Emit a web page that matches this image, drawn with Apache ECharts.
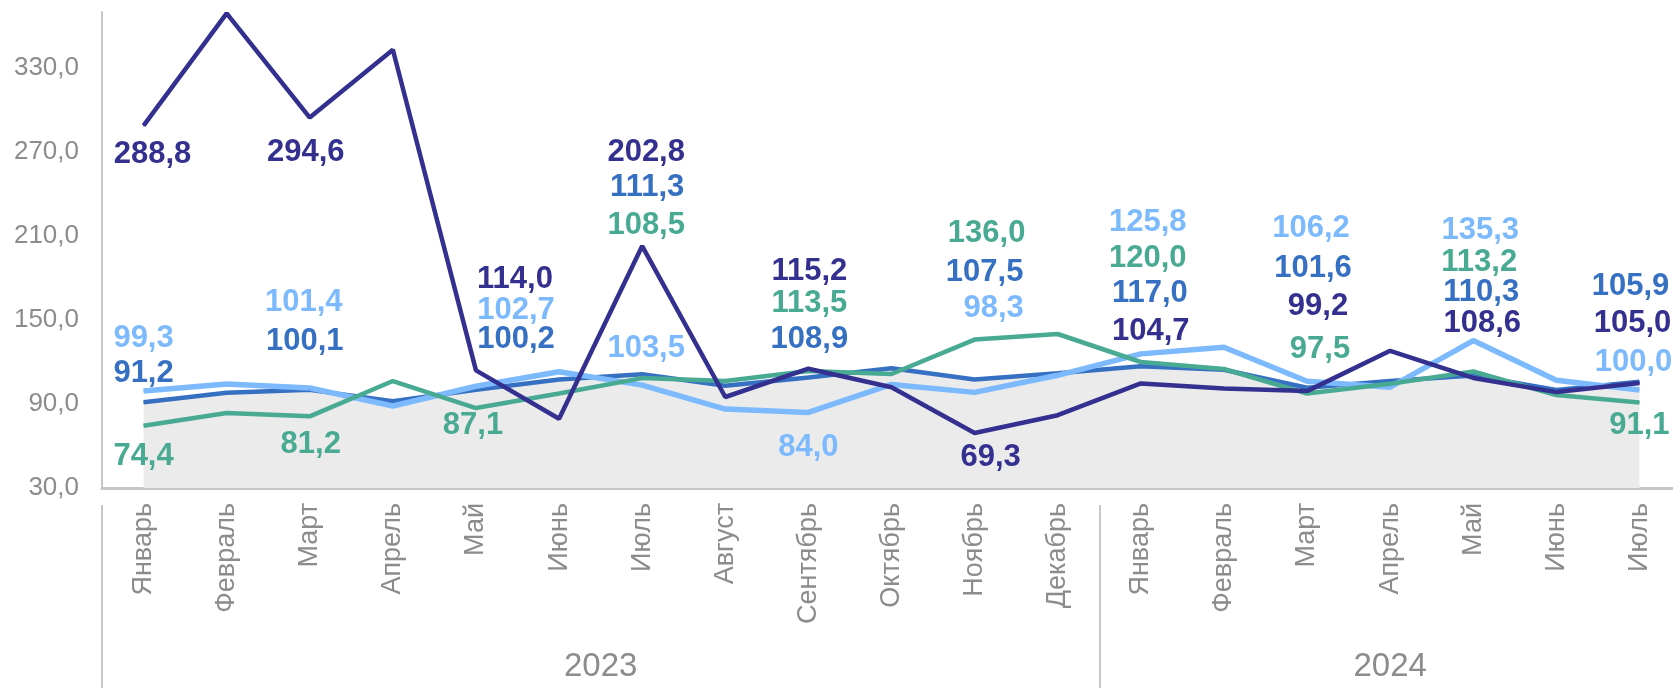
<!DOCTYPE html>
<html>
<head>
<meta charset="utf-8">
<script src="https://cdn.jsdelivr.net/npm/echarts@6/dist/echarts.min.js"></script>
<style>
  html, body { margin: 0; padding: 0; background: #fff; }
  #chart { width: 1673px; height: 688px; }
</style>
</head>
<body>
<div id="chart"></div>
<script>
const months = ['Январь', 'Февраль', 'Март', 'Апрель', 'Май', 'Июнь', 'Июль', 'Август', 'Сентябрь', 'Октябрь', 'Ноябрь', 'Декабрь',
  'Январь', 'Февраль', 'Март', 'Апрель', 'Май', 'Июнь', 'Июль']
const years = ['2023', '2024']
const yearCenters = [5.5, 15]      // middle of each year group (category index)
const yearBounds = [-0.5, 11.5]    // group separators

const navy = [288.8, 369, 294.6, 343, 114.0, 79.5, 202.8, 95, 115.2, 102, 69.3, 82, 104.7, 101, 99.2, 128, 108.6, 98.5, 105.0]
const blue = [91.2, 98, 100.1, 92, 100.2, 107.5, 111.3, 103, 108.9, 115.5, 107.5, 112, 117.0, 114.5, 101.6, 106.5, 110.3, 100, 105.9]
const light = [99.3, 104.3, 101.4, 88.6, 102.7, 113, 103.5, 86.4, 84.0, 104, 98.3, 110.5, 125.8, 130.5, 106.2, 102, 135.3, 107, 100.0]
const green = [74.4, 83.6, 81.2, 106.4, 87.1, 97.5, 108.5, 106.4, 113.5, 111.4, 136.0, 140, 120.0, 115, 97.5, 104.5, 113.2, 96.4, 91.1]

// label placement (pixel shift from the point), only for labelled months
const labelShift = {
  navy: { 0: [9, 29], 2: [-4, 35], 4: [39, -91], 6: [4, -94], 8: [1, -97], 10: [16, 24], 12: [10, -52], 14: [11, -85], 16: [9, -55], 18: [-7, -60] },
  blue: { 0: [0, -29], 2: [-5, -48], 4: [40, -50], 6: [5, -187], 8: [1, -38], 10: [10, -107], 12: [9, -73], 14: [6, -119], 16: [8, -83], 18: [-9, -95] },
  light: { 0: [0, -53], 2: [-6, -86], 4: [40, -76], 6: [4, -37], 8: [0, 35], 10: [19, -84], 12: [7, -131], 14: [4, -153], 16: [7, -110], 18: [-6, -28] },
  green: { 0: [0, 31], 2: [1, 28], 4: [-3, 17], 6: [4, -153], 8: [1, -68], 10: [12, -106], 12: [7, -104], 14: [13, -44], 16: [6, -109], 18: [0, 23] }
}

const colors = { navy: '#33308f', blue: '#3670c2', light: '#7cbafd', green: '#49aa93' }
const fmt = v => v.toFixed(1).replace('.', ',')
const FONT = '"Liberation Sans", Arial, sans-serif'

const buildData = (values, key) => values.map((v, i) => {
  const shift = labelShift[key][i]
  if (!shift) return { value: v }
  return { value: v, label: { show: true, offset: shift } }
})

const lineSeries = (key, values, width) => ({
  name: key,
  type: 'line',
  data: buildData(values, key),
  symbol: 'circle',
  symbolSize: 1,
  itemStyle: { color: colors[key] },
  lineStyle: { color: colors[key], width: width },
  label: {
    show: false,
    position: 'inside',
    formatter: p => fmt(p.value),
    color: colors[key],
    fontFamily: FONT,
    fontWeight: 'bold',
    fontSize: 31
  },
  emphasis: { disabled: true },
  animation: false
})

const chart = echarts.init(document.getElementById('chart'))

chart.setOption({
  animation: false,
  // plot runs a little past the right edge, as in the original
  grid: { left: 102, right: -8, top: 12, bottom: 200, outerBoundsMode: 'none', containLabel: false },
  xAxis: [{
    type: 'category',
    data: months,
    boundaryGap: true,
    axisLine: { show: true, lineStyle: { color: '#c6c6c6', width: 3 } },
    axisTick: { show: false },
    axisLabel: {
      interval: 0,
      rotate: 90,
      margin: 15,
      color: '#8c8c8c',
      fontFamily: FONT,
      fontSize: 27
    }
  }, {
    type: 'value',
    position: 'bottom',
    offset: 17,
    min: -0.5,
    max: 18.5,
    axisLine: { show: false },
    splitLine: { show: false },
    axisTick: {
      show: true,
      customValues: yearBounds,
      length: 185,
      lineStyle: { color: '#c6c6c6', width: 2 }
    },
    axisLabel: {
      customValues: yearCenters,
      formatter: v => years[yearCenters.indexOf(v)] || '',
      margin: 145,
      color: '#8c8c8c',
      fontFamily: FONT,
      fontSize: 33
    }
  }],
  yAxis: {
    type: 'value',
    min: 30,
    max: 370,
    interval: 60,
    axisLine: { show: true, onZero: false, lineStyle: { color: '#c6c6c6', width: 2 } },
    axisTick: { show: false },
    splitLine: { show: false },
    axisLabel: {
      showMaxLabel: false,
      margin: 23,
      color: '#8c8c8c',
      fontFamily: FONT,
      fontSize: 26,
      formatter: v => fmt(v)
    }
  },
  series: [
    {
      name: 'area',
      type: 'line',
      data: blue,
      symbol: 'none',
      lineStyle: { width: 0 },
      areaStyle: { color: '#ebebeb', opacity: 1 },
      z: 1,
      emphasis: { disabled: true },
      animation: false
    },
    lineSeries('blue', blue, 4.5),
    lineSeries('light', light, 5.5),
    lineSeries('green', green, 4.5),
    lineSeries('navy', navy, 4.5)
  ]
})
</script>
</body>
</html>
